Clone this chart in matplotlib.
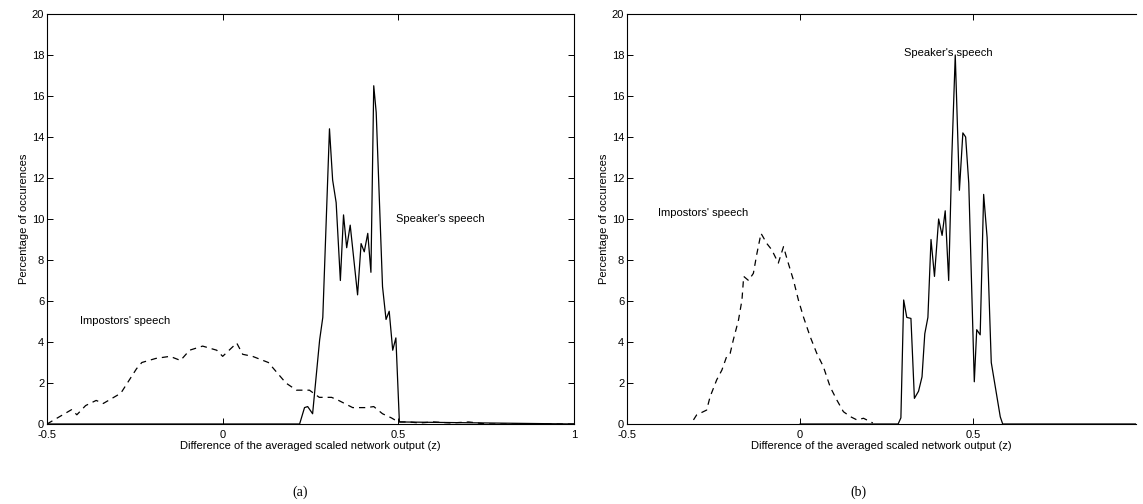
import matplotlib
matplotlib.use("Agg")
import matplotlib.pyplot as plt

plt.rcParams['font.family'] = ['Liberation Sans', 'DejaVu Sans']

# ---- panel (a) ----
a_imp_x = [-0.50, -0.47, -0.43, -0.415, -0.39, -0.36, -0.34, -0.31, -0.29, -0.245, -0.23,
           -0.19, -0.15, -0.12, -0.094, -0.057, -0.017, 0.0, 0.04, 0.057, 0.085, 0.13,
           0.18, 0.21, 0.247, 0.275, 0.31, 0.33, 0.37, 0.41, 0.43, 0.455, 0.48, 0.50,
           0.53, 0.56, 0.60, 0.65, 0.70, 0.75, 0.85, 1.0]
a_imp_y = [0.0, 0.3, 0.7, 0.45, 0.9, 1.15, 1.0, 1.3, 1.5, 2.7, 3.0,
           3.2, 3.3, 3.1, 3.6, 3.8, 3.6, 3.3, 3.95, 3.4, 3.3, 3.0,
           2.0, 1.65, 1.65, 1.3, 1.3, 1.15, 0.8, 0.8, 0.85, 0.5, 0.3, 0.1,
           0.1, 0.05, 0.1, 0.05, 0.1, 0.0, 0.0, 0.0]

a_spk_x = [-0.5, 0.219, 0.233, 0.242, 0.256, 0.276, 0.285, 0.304, 0.313, 0.323, 0.335,
           0.344, 0.353, 0.363, 0.384, 0.394, 0.403, 0.413, 0.422, 0.43, 0.437, 0.455,
           0.465, 0.474, 0.484, 0.493, 0.503, 1.0]
a_spk_y = [0.0, 0.0, 0.8, 0.85, 0.5, 4.1, 5.2, 14.4, 11.9, 10.8, 7.0,
           10.2, 8.6, 9.7, 6.3, 8.8, 8.4, 9.3, 7.4, 16.5, 15.2, 6.7,
           5.1, 5.5, 3.6, 4.2, 0.1, 0.0]

# ---- panel (b) ----
b_imp_x = [-0.308, -0.299, -0.27, -0.26, -0.241, -0.226, -0.212, -0.202, -0.193, -0.178,
           -0.168, -0.163, -0.149, -0.135, -0.125, -0.113, -0.096, -0.082, -0.063, -0.048,
           -0.037, -0.019, -0.005, 0.01, 0.029, 0.048, 0.067, 0.087, 0.106, 0.125, 0.145,
           0.164, 0.183, 0.21]
b_imp_y = [0.2, 0.44, 0.68, 1.33, 2.15, 2.63, 3.3, 3.45, 4.1, 5.07,
           6.05, 7.2, 7.0, 7.35, 8.3, 9.3, 8.8, 8.5, 7.85, 8.65,
           8.0, 7.0, 6.05, 5.2, 4.26, 3.45, 2.8, 1.8, 1.17, 0.6, 0.36,
           0.2, 0.28, 0.05]

b_spk_x = [0.0, 0.283, 0.291, 0.299, 0.308, 0.32, 0.33, 0.342, 0.352, 0.36, 0.369, 0.378,
           0.388, 0.40, 0.41, 0.419, 0.429, 0.438, 0.448, 0.46, 0.47, 0.478, 0.487,
           0.503, 0.51, 0.52, 0.53, 0.54, 0.552, 0.578, 0.585, 0.97]
b_spk_y = [0.0, 0.0, 0.3, 6.05, 5.2, 5.15, 1.25, 1.6, 2.3, 4.4, 5.2, 9.0,
           7.2, 10.0, 9.2, 10.4, 7.0, 13.0, 18.0, 11.4, 14.2, 14.0, 11.75,
           2.06, 4.6, 4.35, 11.2, 9.1, 3.0, 0.35, 0.0, 0.0]

yticks = list(range(0, 21, 2))
a_xticks = [-0.5, 0, 0.5, 1]
a_xticklabels = ['-0.5', '0', '0.5', '1']
b_xticks = [-0.5, 0, 0.5]
b_xticklabels = ['-0.5', '0', '0.5']

W, H = 1143, 504
fig = plt.figure(figsize=(W / 100, H / 100), dpi=100)

ax1 = fig.add_axes([47 / W, 1 - 424 / H, (574 - 47) / W, (424 - 14) / H])
ax2 = fig.add_axes([627 / W, 1 - 424 / H, (1136 - 627) / W, (424 - 14) / H])

dash = (0, (5, 4))
lw = 0.9
for ax, ix, iy, sx, sy, xt, xtl, xlim in [
        (ax1, a_imp_x, a_imp_y, a_spk_x, a_spk_y, a_xticks, a_xticklabels, (-0.5, 1.0)),
        (ax2, b_imp_x, b_imp_y, b_spk_x, b_spk_y, b_xticks, b_xticklabels, (-0.5, 0.97))]:
    ax.plot(ix, iy, color='black', lw=lw, linestyle=dash)
    ax.plot(sx, sy, color='black', lw=lw)
    ax.set_xlim(*xlim)
    ax.set_ylim(0, 20)
    ax.set_yticks(yticks)
    ax.set_yticklabels([str(v) for v in yticks])
    ax.set_xticks(xt)
    ax.set_xticklabels(xtl)
    ax.tick_params(direction='in', top=True, right=True, labelsize=8, length=4,
                   width=0.7, pad=2)
    ax.tick_params(axis='x', pad=4)
    for s in ax.spines.values():
        s.set_linewidth(0.8)
    ax.set_xlabel('Difference of the averaged scaled network output (z)', fontsize=8, labelpad=1)
    ax.set_ylabel('Percentage of occurences', fontsize=8, labelpad=2)

ax2.spines['right'].set_visible(False)
ax2.tick_params(right=False)

ax1.text(-0.405, 5.0, "Impostors' speech", fontsize=8, va='center', ha='left')
ax1.text(0.493, 10.0, "Speaker's speech", fontsize=8, va='center', ha='left')
ax2.text(-0.41, 10.3, "Impostors' speech", fontsize=8, va='center', ha='left')
ax2.text(0.30, 18.1, "Speaker's speech", fontsize=8, va='center', ha='left')

fig.text(300 / W, 1 - 492 / H, '(a)', fontsize=10, ha='center', va='center',
         family=['Liberation Serif', 'DejaVu Serif'])
fig.text(858 / W, 1 - 492 / H, '(b)', fontsize=10, ha='center', va='center',
         family=['Liberation Serif', 'DejaVu Serif'])

fig.savefig('out.png', dpi=100)
